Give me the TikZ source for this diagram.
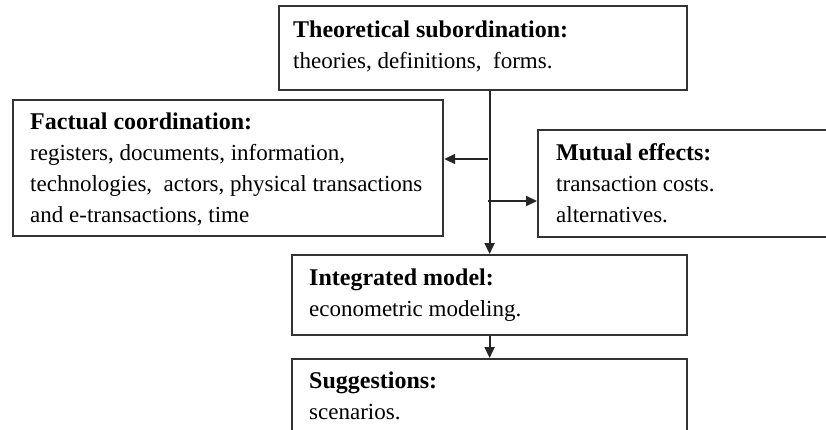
\documentclass[tikz,border=0pt]{standalone}
\usepackage{fontspec}
\setmainfont{Liberation Serif}
\usetikzlibrary{arrows.meta}
\newcommand{\hdr}[1]{{\fontsize{24}{31}\selectfont\textbf{#1}}}
\begin{document}
\begin{tikzpicture}[x=1pt,y=1pt,
  box/.style={draw=black!80, line width=2.2pt, rectangle, inner sep=0pt, anchor=north west},
  txt/.style={anchor=base west, inner sep=0pt, font=\fontsize{23}{31}\selectfont},
  arr/.style={draw=black!85, line width=2pt, -{Triangle[length=11pt,width=10pt]}}]
\useasboundingbox (0,0) rectangle (826,-429);
\clip (0,0) rectangle (826,-429);
% boxes
\node[box, minimum width=408pt, minimum height=84pt] (top) at (278,-5) {};
\node[box, minimum width=430pt, minimum height=136pt] (fact) at (12,-99) {};
\node[box, minimum width=320pt, minimum height=107pt] (mut) at (537,-129) {};
\node[box, minimum width=395pt, minimum height=80pt] (integ) at (291,-254) {};
\node[box, minimum width=395pt, minimum height=120pt] (sugg) at (291,-358) {};
% texts
\node[txt] (topt) at (293,-37) {\begin{tabular}[t]{@{}l@{}}\hdr{Theoretical subordination:}\\ theories, definitions,\ \ forms.\end{tabular}};
\node[txt] (factt) at (30,-129) {\begin{tabular}[t]{@{}l@{}}\hdr{Factual coordination:}\\ registers, documents, information,\\ technologies,\ \ actors, physical transactions\\ and e-transactions, time\end{tabular}};
\node[txt] (mutt) at (556,-160) {\begin{tabular}[t]{@{}l@{}}\hdr{Mutual effects:}\\ transaction costs.\\ alternatives.\end{tabular}};
\node[txt] (integt) at (309,-285) {\begin{tabular}[t]{@{}l@{}}\hdr{Integrated model:}\\ econometric modeling.\end{tabular}};
\node[txt] (suggt) at (309,-388) {\begin{tabular}[t]{@{}l@{}}\hdr{Suggestions:}\\ scenarios.\end{tabular}};
% connectors
\coordinate (jl) at (488,-159);
\coordinate (jr) at (488,-201);
\draw[arr] (integ.north |- top.south) -- (integ.north);
\draw[arr] (jl) -- (jl -| fact.east);
\draw[arr] (jr) -- (jr -| mut.west);
\draw[arr] (integ.south) -- (sugg.north);
\end{tikzpicture}
\end{document}
